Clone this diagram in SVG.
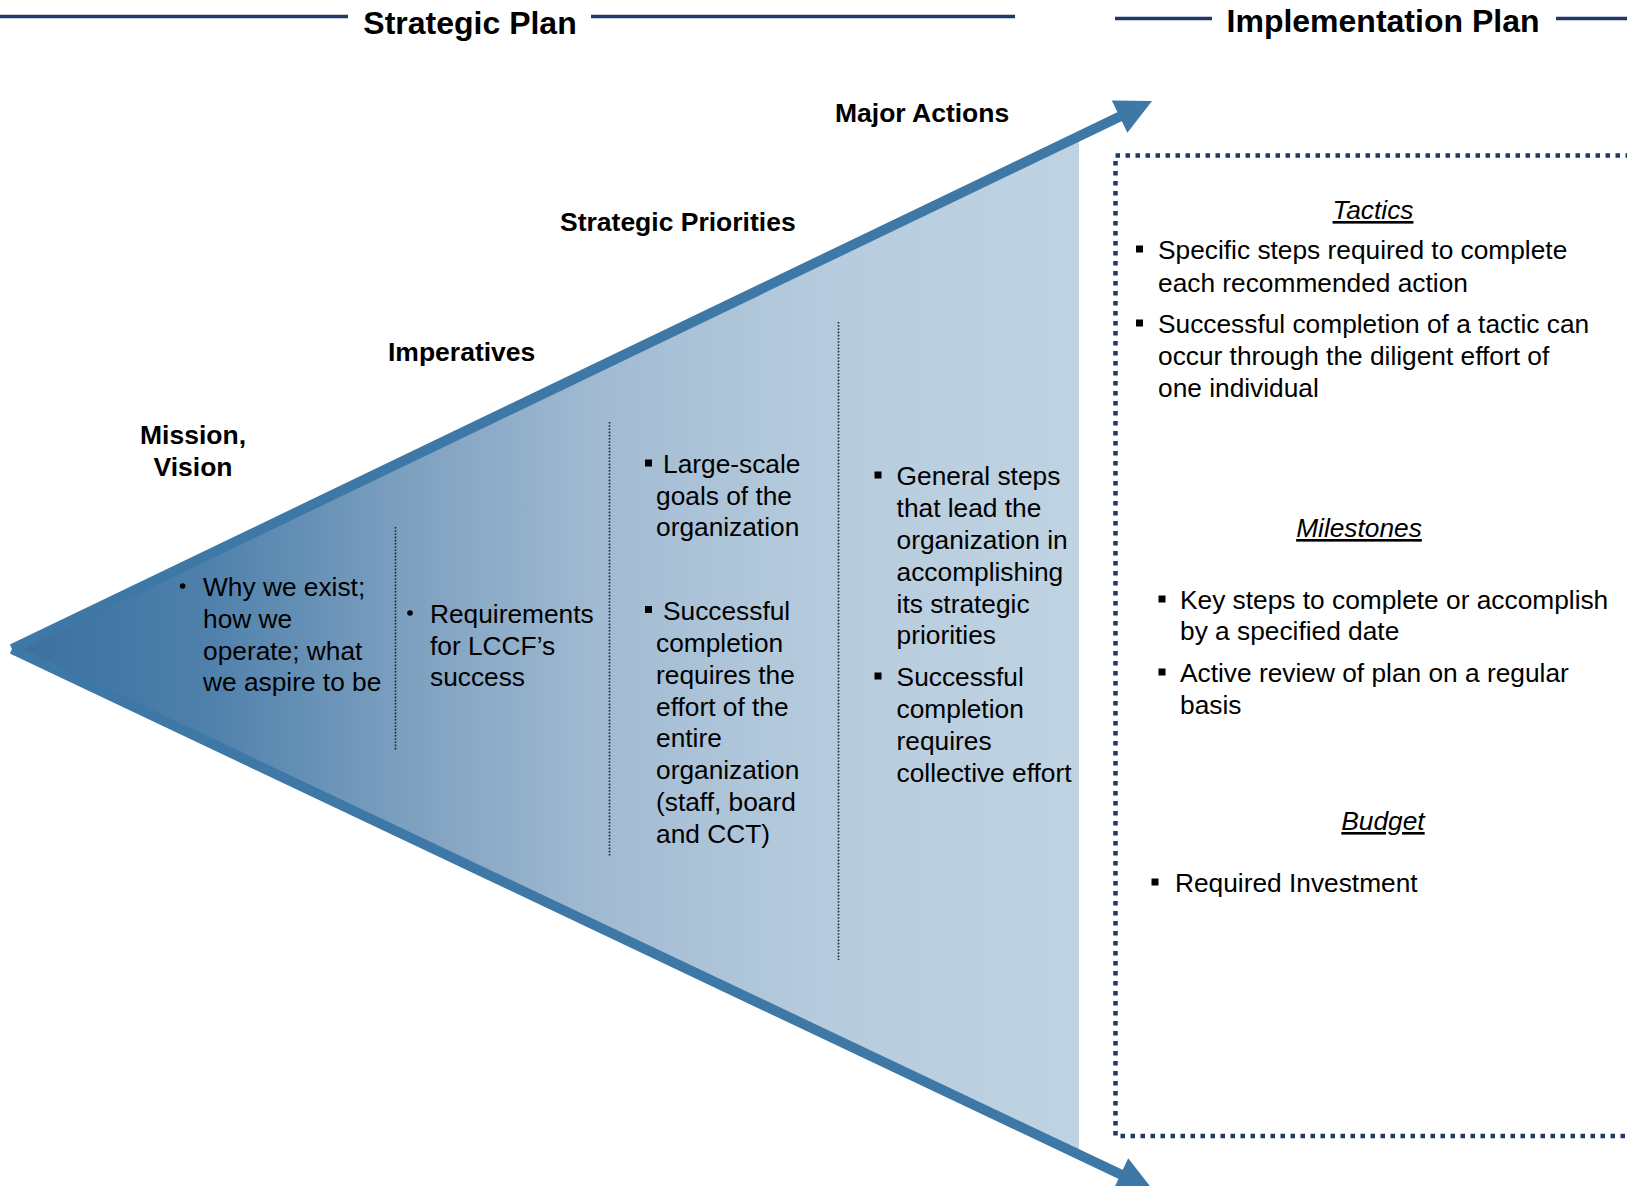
<svg xmlns="http://www.w3.org/2000/svg" width="1627" height="1186" viewBox="0 0 1627 1186">
<style>
.h{font-family:"Liberation Sans",Arial,sans-serif;font-weight:bold;font-size:32px;fill:#000}
.lab{font-family:"Liberation Sans",Arial,sans-serif;font-weight:bold;font-size:26.5px;fill:#000}
.t{font-family:"Liberation Sans",Arial,sans-serif;font-size:26.3px;fill:#000}
.ti{font-family:"Liberation Sans",Arial,sans-serif;font-size:26.3px;font-style:italic;text-decoration:underline;fill:#000}
.rule{stroke:#1F3864;stroke-width:3.5}
.div{stroke:#222;stroke-width:1.6;stroke-dasharray:1.6 1.6;fill:none}
.sq{fill:#000}
.arr{fill:#3E78A7}
</style>
<defs>
<linearGradient id="g" gradientUnits="userSpaceOnUse" x1="12" y1="0" x2="1079" y2="0">
<stop offset="0" stop-color="#3A6F9E"/>
<stop offset="0.18" stop-color="#4E80AB"/>
<stop offset="0.37" stop-color="#7DA0C0"/>
<stop offset="0.56" stop-color="#A3BCD3"/>
<stop offset="0.76" stop-color="#B6CBDD"/>
<stop offset="1" stop-color="#BFD3E2"/>
</linearGradient>
</defs>

<g id="header-strategic">
<line class="rule" x1="0" y1="16.5" x2="348" y2="16.5"/>
<line class="rule" x1="591" y1="16.5" x2="1015" y2="16.5"/>
<text class="h" x="470" y="34" text-anchor="middle">Strategic Plan</text>
</g>
<g id="header-implementation">
<line class="rule" x1="1115" y1="18.5" x2="1212" y2="18.5"/>
<line class="rule" x1="1556" y1="18.5" x2="1627" y2="18.5"/>
<text class="h" x="1383" y="32" text-anchor="middle">Implementation Plan</text>
</g>

<g id="wedge">
<polygon points="12,649 1079,136 1079,1155" fill="url(#g)"/>
</g>

<g id="connectors">
<line x1="12" y1="649" x2="1121" y2="116" stroke="#3E78A7" stroke-width="10"/>
<polygon class="arr" points="1152,101 1111.8,100.4 1127.4,132.8"/>
<line x1="12" y1="649" x2="1122" y2="1175" stroke="#3E78A7" stroke-width="10"/>
<polygon class="arr" points="1153,1190 1112.8,1190.9 1128.2,1158.3"/>
</g>

<g id="dividers">
<line class="div" x1="395.5" y1="527" x2="395.5" y2="751"/>
<line class="div" x1="609.5" y1="422" x2="609.5" y2="856"/>
<line class="div" x1="838.5" y1="322" x2="838.5" y2="960"/>
</g>

<g id="label-mission">
<text class="lab" x="193" y="444" text-anchor="middle">Mission,</text>
<text class="lab" x="193" y="476" text-anchor="middle">Vision</text>
</g>
<g id="label-imperatives"><text class="lab" x="388" y="361">Imperatives</text></g>
<g id="label-priorities"><text class="lab" x="560" y="231">Strategic Priorities</text></g>
<g id="label-actions"><text class="lab" x="835" y="122">Major Actions</text></g>

<g id="col-mission">
<circle cx="182.6" cy="586" r="2.8"/>
<text class="t" x="203" y="596">Why we exist;</text>
<text class="t" x="203" y="628">how we</text>
<text class="t" x="203" y="660">operate; what</text>
<text class="t" x="203" y="691">we aspire to be</text>
</g>

<g id="col-imperatives">
<circle cx="410" cy="613" r="2.8"/>
<text class="t" x="430" y="623">Requirements</text>
<text class="t" x="430" y="655">for LCCF’s</text>
<text class="t" x="430" y="686">success</text>
</g>

<g id="col-priorities">
<rect class="sq" x="645" y="459.5" width="7" height="7"/>
<text class="t" x="663" y="473">Large-scale</text>
<text class="t" x="656" y="505">goals of the</text>
<text class="t" x="656" y="536">organization</text>
<rect class="sq" x="645" y="606" width="7" height="7"/>
<text class="t" x="663" y="619.5">Successful</text>
<text class="t" x="656" y="652">completion</text>
<text class="t" x="656" y="684">requires the</text>
<text class="t" x="656" y="716">effort of the</text>
<text class="t" x="656" y="747">entire</text>
<text class="t" x="656" y="779">organization</text>
<text class="t" x="656" y="811">(staff, board</text>
<text class="t" x="656" y="843">and CCT)</text>
</g>

<g id="col-actions">
<rect class="sq" x="874.5" y="471.5" width="7" height="7"/>
<text class="t" x="896.6" y="485">General steps</text>
<text class="t" x="896.6" y="517">that lead the</text>
<text class="t" x="896.6" y="549">organization in</text>
<text class="t" x="896.6" y="581">accomplishing</text>
<text class="t" x="896.6" y="613">its strategic</text>
<text class="t" x="896.6" y="644">priorities</text>
<rect class="sq" x="874.5" y="672.5" width="7" height="7"/>
<text class="t" x="896.6" y="686">Successful</text>
<text class="t" x="896.6" y="718">completion</text>
<text class="t" x="896.6" y="750">requires</text>
<text class="t" x="896.6" y="782">collective effort</text>
</g>

<g id="implementation-box">
<path d="M1640,155.5 H1115.5 V1136 H1640" fill="none" stroke="#1F3864" stroke-width="4.5" stroke-dasharray="4.5 5.5"/>
</g>

<g id="tactics">
<text class="ti" x="1373" y="219" text-anchor="middle">Tactics</text>
<rect class="sq" x="1136" y="245.5" width="7" height="7"/>
<text class="t" x="1158" y="259">Specific steps required to complete</text>
<text class="t" x="1158" y="292">each recommended action</text>
<rect class="sq" x="1136" y="319.5" width="7" height="7"/>
<text class="t" x="1158" y="333">Successful completion of a tactic can</text>
<text class="t" x="1158" y="365">occur through the diligent effort of</text>
<text class="t" x="1158" y="397">one individual</text>
</g>

<g id="milestones">
<text class="ti" x="1359" y="537" text-anchor="middle">Milestones</text>
<rect class="sq" x="1158.5" y="595.5" width="7" height="7"/>
<text class="t" x="1180" y="609">Key steps to complete or accomplish</text>
<text class="t" x="1180" y="640">by a specified date</text>
<rect class="sq" x="1158.5" y="668.5" width="7" height="7"/>
<text class="t" x="1180" y="682">Active review of plan on a regular</text>
<text class="t" x="1180" y="714">basis</text>
</g>

<g id="budget">
<text class="ti" x="1383" y="830" text-anchor="middle">Budget</text>
<rect class="sq" x="1151.5" y="878.5" width="7" height="7"/>
<text class="t" x="1175" y="892">Required Investment</text>
</g>
</svg>
